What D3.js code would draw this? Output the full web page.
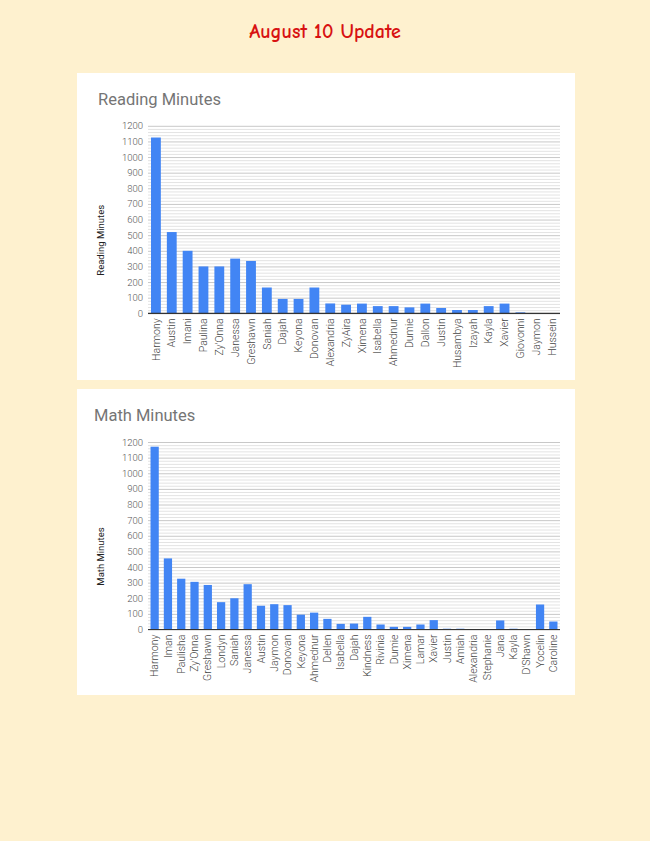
<!DOCTYPE html>
<html>
<head>
<meta charset="utf-8">
<script src="https://d3js.org/d3.v7.min.js"></script>
<style>
  body { margin: 0; background: #fef1cf; }
  svg { display: block; }
</style>
</head>
<body>
<div id="page"></div>
<script>
// reading chart data
const readingNames = ["Harmony", "Austin", "Imani", "Paulina", "Zy'Onna", "Janessa", "Greshawn",
  "Saniah", "Dajah", "Keyona", "Donovan", "Alexandria", "ZyAira", "Ximena", "Isabella",
  "Ahmednur", "Dumie", "Dallon", "Justin", "Husambya", "Izayah", "Kayla", "Xavier",
  "Giovonni", "Jaymon", "Hussein"];
const readingMinutes = [1125, 520, 400, 300, 300, 350, 335, 165, 92, 92, 165, 63, 55, 62, 46,
  46, 38, 62, 34, 21, 21, 46, 62, 6, 0, 0];

// math chart data
const mathNames = ["Harmony", "Iman", "Paulisha", "Zy'Onna", "Greshawn", "Londyn", "Saniah",
  "Janessa", "Austin", "Jaymon", "Donovan", "Keyona", "Ahmednur", "Dellen", "Isabella",
  "Dajah", "Kindness", "Rivinia", "Dumie", "Ximena", "Lamar", "Xavier", "Justin", "Amiah",
  "Alexandria", "Stephanie", "Jana", "Kayla", "D'Shawn", "Yocelin", "Caroline"];
const mathMinutes = [1170, 455, 325, 305, 285, 175, 200, 290, 152, 162, 156, 95, 108, 68, 36,
  38, 81, 32, 17, 17, 32, 60, 5, 5, 0, 0, 58, 5, 0, 160, 51];

const yTicks = [0, 100, 200, 300, 400, 500, 600, 700, 800, 900, 1000, 1100, 1200];

const W = 650, H = 841;
const svg = d3.select("#page").append("svg")
  .attr("width", W)
  .attr("height", H);

// page title
svg.append("text")
  .attr("x", 325)
  .attr("y", 38)
  .attr("text-anchor", "middle")
  .style("font-family", "'Comic Sans MS', 'Comic Neue', 'DejaVu Sans', sans-serif")
  .style("font-weight", "bold")
  .style("font-size", "20px")
  .style("fill", "#d81212")
  .text("August 10 Update");

function drawChart(opts) {
  const card = svg.append("g");
  card.append("rect")
    .attr("x", 77).attr("y", opts.top)
    .attr("width", 498).attr("height", opts.height)
    .attr("fill", "#ffffff");

  card.append("text")
    .attr("x", opts.titleX)
    .attr("y", opts.top + 32)
    .style("font-family", "Roboto, sans-serif")
    .style("font-size", "16.5px")
    .style("fill", "#757575")
    .text(opts.title);

  const x = d3.scaleBand()
    .domain(opts.names)
    .range([148, 560])
    .paddingInner(0.38)
    .paddingOuter(0.19);

  const y = d3.scaleLinear()
    .domain([0, 1200])
    .range([opts.base, opts.base - 187.5]);

  // minor gridlines
  card.append("g")
    .selectAll("line")
    .data(d3.range(0, 1201, 20).filter(v => v % 100 !== 0))
    .join("line")
      .attr("x1", 148).attr("x2", 560)
      .attr("y1", d => y(d) + 0.5).attr("y2", d => y(d) + 0.5)
      .attr("stroke", "#e3e3e3");

  // y axis with major gridlines
  const yAxis = card.append("g")
    .attr("transform", "translate(148,0)")
    .call(d3.axisLeft(y).tickValues(yTicks).tickFormat(d3.format("d")).tickSize(-412).tickPadding(5));
  yAxis.select(".domain").remove();
  yAxis.selectAll(".tick line").attr("stroke", "#c8c8c8");
  yAxis.selectAll(".tick text")
    .style("font-family", "Roboto, sans-serif")
    .style("font-weight", "300")
    .style("font-size", "9.5px")
    .style("fill", "#555555");

  // bars
  card.append("g")
    .selectAll("rect")
    .data(opts.values)
    .join("rect")
      .attr("x", (d, i) => x(opts.names[i]))
      .attr("y", d => y(d))
      .attr("width", x.bandwidth())
      .attr("height", d => y(0) - y(d))
      .attr("fill", "#4285f4");

  // baseline
  card.append("line")
    .attr("x1", 148).attr("x2", 560)
    .attr("y1", y(0)).attr("y2", y(0))
    .attr("stroke", "#333333")
    .attr("stroke-width", 1.2);

  // x labels rotated
  const xAxis = card.append("g")
    .attr("transform", "translate(0," + y(0) + ")")
    .call(d3.axisBottom(x).tickSize(0).tickPadding(0));
  xAxis.select(".domain").remove();
  xAxis.selectAll(".tick text")
    .attr("transform", "rotate(-90)")
    .attr("x", -5)
    .attr("y", 0)
    .attr("dy", "0.35em")
    .attr("text-anchor", "end")
    .style("font-family", "Roboto, sans-serif")
    .style("font-weight", "300")
    .style("font-size", "10.5px")
    .style("fill", "#444444");

  // y axis title
  card.append("text")
    .attr("transform", "translate(" + opts.yTitleX + "," + (opts.base - 73) + ") rotate(-90)")
    .attr("text-anchor", "middle")
    .style("font-family", "Roboto, sans-serif")
    .style("font-size", "9.5px")
    .style("fill", "#222222")
    .text(opts.yTitle);
}

drawChart({
  top: 73, height: 307, base: 313.3, titleX: 98,
  title: "Reading Minutes", yTitle: "Reading Minutes", yTitleX: 104,
  names: readingNames, values: readingMinutes
});

drawChart({
  top: 389, height: 306, base: 629.5, titleX: 94,
  title: "Math Minutes", yTitle: "Math Minutes", yTitleX: 104,
  names: mathNames, values: mathMinutes
});
</script>
</body>
</html>
